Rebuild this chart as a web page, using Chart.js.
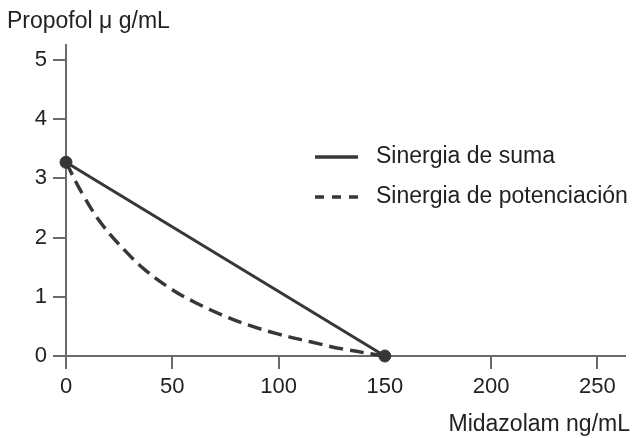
<!DOCTYPE html>
<html>
<head>
<meta charset="utf-8">
<script src="https://cdn.jsdelivr.net/npm/chart.js@4.4.1/dist/chart.umd.min.js"></script>
<style>
  html, body { margin: 0; padding: 0; background: #fff; }
  #grafica { display: block; }
</style>
</head>
<body>
<canvas id="grafica" width="632" height="438"></canvas>
<script>
// Valores de las curvas (midazolam ng/mL vs propofol µg/mL)
const sumaX = [0, 150];
const sumaY = [3.27, 0];
const potenX = [0, 8, 17, 28, 38, 50, 61, 73, 86, 100, 115, 130, 150];
const potenY = [3.27, 2.72, 2.22, 1.77, 1.43, 1.12, 0.90, 0.70, 0.52, 0.37, 0.24, 0.12, 0];
const puntosX = [0, 150];
const puntosY = [3.27, 0];
const ticksX = [0, 50, 100, 150, 200, 250];
const ticksY = [0, 1, 2, 3, 4, 5];

const etiquetas = ['Sinergia de suma', 'Sinergia de potenciación'];
const tituloY = 'Propofol \u03bc g/mL';
const tituloX = 'Midazolam ng/mL';

const colorLinea = '#373737';
const colorEje = '#6a6a6a';
const fuente = 'Liberation Sans, Arial, sans-serif';

const toXY = (xs, ys) => xs.map((x, i) => ({ x: x, y: ys[i] }));

// Leyenda y títulos de ejes dibujados a mano
const textosPlugin = {
  id: 'textos',
  afterDraw(chart) {
    const ctx = chart.ctx;
    ctx.save();
    ctx.fillStyle = '#222';
    ctx.font = '23px ' + fuente;
    ctx.textBaseline = 'middle';
    ctx.textAlign = 'left';
    ctx.fillText(tituloY, 7, 22);
    ctx.textAlign = 'right';
    ctx.fillText(tituloX, 630, 425);

    // leyenda
    const items = [
      { texto: etiquetas[0], dash: [], y: 157 },
      { texto: etiquetas[1], dash: [9, 8], y: 197 }
    ];
    items.forEach(it => {
      ctx.strokeStyle = colorLinea;
      ctx.lineWidth = 3.5;
      ctx.setLineDash(it.dash);
      ctx.beginPath();
      ctx.moveTo(315, it.y);
      ctx.lineTo(358, it.y);
      ctx.stroke();
      ctx.setLineDash([]);
      ctx.textAlign = 'left';
      ctx.fillText(it.texto, 376, it.y);
    });
    ctx.restore();
  }
};

new Chart(document.getElementById('grafica'), {
  type: 'scatter',
  data: {
    datasets: [
      {
        label: etiquetas[0],
        data: toXY(sumaX, sumaY),
        showLine: true,
        borderColor: colorLinea,
        borderWidth: 3,
        pointRadius: 0,
        clip: false
      },
      {
        label: etiquetas[1],
        data: toXY(potenX, potenY),
        showLine: true,
        borderColor: colorLinea,
        borderWidth: 3.5,
        borderDash: [14, 7],
        tension: 0.4,
        pointRadius: 0,
        clip: false
      },
      {
        label: 'puntos',
        data: toXY(puntosX, puntosY),
        showLine: false,
        pointRadius: 6,
        pointBackgroundColor: colorLinea,
        pointBorderColor: colorLinea,
        clip: false
      }
    ]
  },
  options: {
    responsive: false,
    animation: false,
    layout: { padding: { top: 45, right: 5, left: 0, bottom: 0 } },
    plugins: {
      legend: { display: false },
      tooltip: { enabled: false }
    },
    scales: {
      x: {
        type: 'linear',
        min: 0,
        max: 263,
        afterFit: s => { s.height = 82; },
        afterBuildTicks: s => { s.ticks = ticksX.map(v => ({ value: v })); },
        grid: {
          drawOnChartArea: false,
          drawTicks: true,
          tickLength: 13,
          lineWidth: 2,
          // sin marca bajo el punto de 150
          color: c => (c.tick && c.tick.value === 150) ? 'rgba(0,0,0,0)' : colorEje
        },
        border: { color: colorEje, width: 2 },
        ticks: {
          color: '#222',
          padding: 5,
          font: { family: fuente, size: 22 }
        }
      },
      y: {
        type: 'linear',
        min: 0,
        max: 5.25,
        afterFit: s => { s.width = 66; },
        afterBuildTicks: s => { s.ticks = ticksY.map(v => ({ value: v })); },
        grid: {
          drawOnChartArea: false,
          drawTicks: true,
          tickLength: 13,
          lineWidth: 2,
          color: colorEje
        },
        border: { color: colorEje, width: 2 },
        ticks: {
          color: '#222',
          padding: 6,
          font: { family: fuente, size: 22 }
        }
      }
    }
  },
  plugins: [textosPlugin]
});
</script>
</body>
</html>
